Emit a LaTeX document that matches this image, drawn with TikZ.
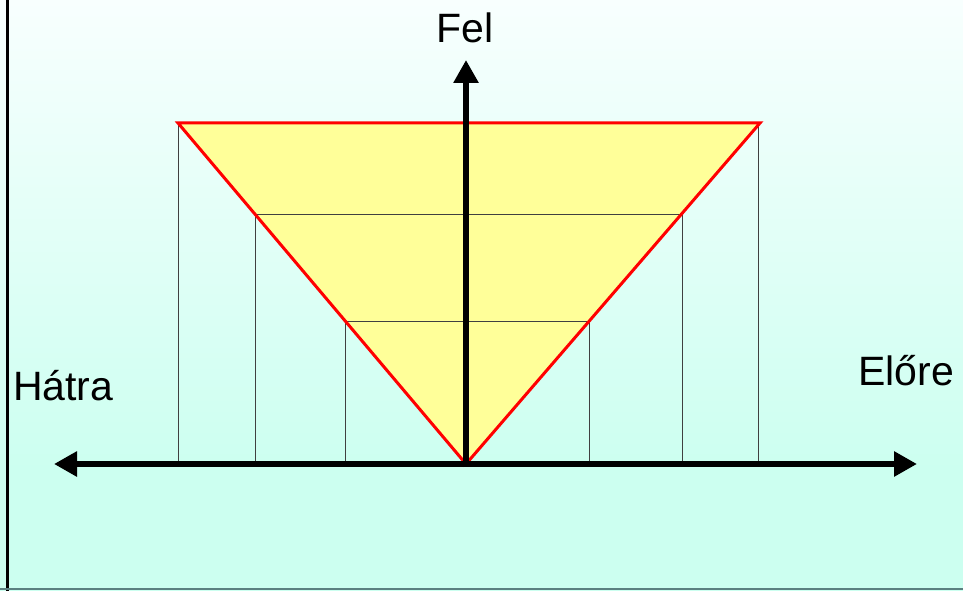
\documentclass[tikz,border=0pt]{standalone}
\usepackage{fontspec}
\setmainfont{Liberation Sans}
\usetikzlibrary{arrows.meta}
\definecolor{bgtop}{RGB}{248,255,254}
\definecolor{bgbot}{RGB}{204,255,240}
\definecolor{trifill}{RGB}{255,255,153}
\definecolor{bordergray}{RGB}{90,128,128}
\tikzset{
  axis/.style={line width=6pt,-{Triangle[length=23pt,width=24pt]}},
  thin/.style={line width=1pt,draw=black!75},
  redline/.style={draw=red,line width=3pt,line join=miter},
  lbl/.style={font=\fontsize{41}{49}\selectfont,inner sep=0pt}
}
\begin{document}
\begin{tikzpicture}[x=1pt,y=-1pt]
\useasboundingbox (0,0) rectangle (963,591);
\fill[bgbot] (0,470) rectangle (963,591);
\shade[top color=bgtop,bottom color=bgbot] (0,0) rectangle (963,470);
\draw[line width=3pt,black] (7,0) -- (7,591);
\draw[line width=2pt,bordergray] (0,589) -- (963,589);
% triangle vertices
\coordinate (TL) at (178,123);
\coordinate (TR) at (760,123);
\coordinate (O) at (466,464);
\coordinate (L1) at (255,214);
\coordinate (R1) at (682,214);
\coordinate (L2) at (345,321);
\coordinate (R2) at (589,321);
\coordinate (BL0) at (178,464);
\coordinate (BL1) at (255,464);
\coordinate (BL2) at (345,464);
\coordinate (BR0) at (758,464);
\coordinate (BR1) at (682,464);
\coordinate (BR2) at (589,464);
\fill[trifill] (TL) -- (TR) -- (O) -- cycle;
\draw[thin] (L1) -- (R1);
\draw[thin] (L2) -- (R2);
\draw[thin] (TL) -- (BL0);
\draw[thin] (L1) -- (BL1);
\draw[thin] (L2) -- (BL2);
\draw[thin] (BR0 |- TL) -- (BR0);
\draw[thin] (R1) -- (BR1);
\draw[thin] (R2) -- (BR2);
\draw[redline] (TL) -- (TR) -- (O) -- cycle;
% axes
\coordinate (LE) at (54,464);
\coordinate (RE) at (917,464);
\coordinate (UP) at (466,60);
\draw[axis] (O) -- (LE);
\draw[axis] (O) -- (RE);
\draw[axis] (466,467) -- (UP);
% labels
\node[lbl,anchor=base] (fel) at (465,43) {Fel};
\node[lbl,anchor=base west] (hatra) at (13,400) {Hátra};
\node[lbl,anchor=base west] (elore) at (858,385) {Előre};
\end{tikzpicture}
\end{document}
